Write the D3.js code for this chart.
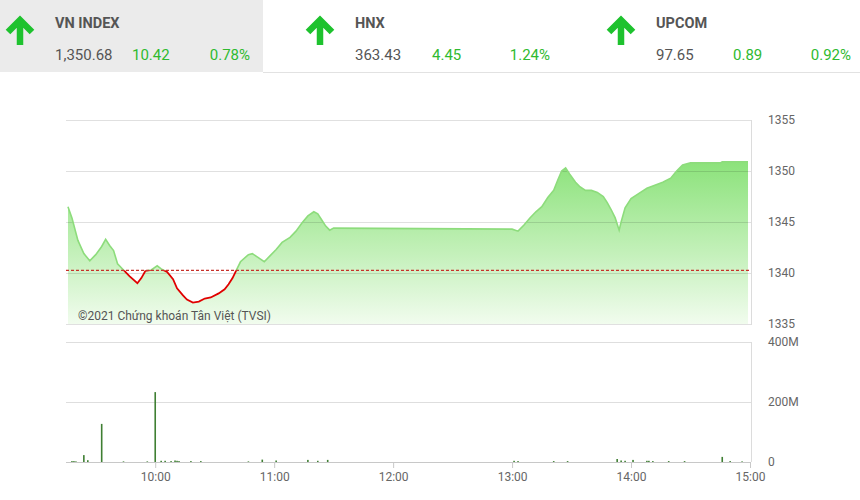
<!DOCTYPE html>
<html>
<head>
<meta charset="utf-8">
<script src="https://cdn.jsdelivr.net/npm/d3@7/dist/d3.min.js"></script>
<style>
  html, body { margin: 0; padding: 0; background: #fff; }
  svg { display: block; font-family: Roboto, "Noto Sans", sans-serif; }
</style>
</head>
<body>
<svg id="chart" width="860" height="500"></svg>
<script>
// ---- Header data ----
const indexNames   = ["VN INDEX", "HNX", "UPCOM"];
const indexValues  = ["1,350.68", "363.43", "97.65"];
const indexChanges = ["10.42", "4.45", "0.89"];
const indexPcts    = ["0.78%", "1.24%", "0.92%"];

// ---- Price series (time "HH:MM", VN-Index value) ----
const priceTimes = ["9:16","9:18","9:21","9:24","9:27","9:30","9:33","9:35","9:37","9:39","9:41","9:44","9:47","9:51","9:53","9:55","9:58",
  "10:01","10:03","10:06","10:09","10:11","10:14","10:16","10:19","10:22","10:25","10:28","10:32","10:35","10:37","10:39","10:41","10:43","10:47","10:49","10:52","10:55","10:58",
  "11:01","11:04","11:08","11:11","11:14","11:17","11:20","11:22","11:24","11:26","11:28","11:30",
  "13:00","13:03","13:06","13:09","13:12","13:15","13:18","13:21","13:23","13:25","13:27","13:29","13:32","13:34","13:37","13:40","13:43","13:46","13:48","13:50","13:52","13:54","13:55","13:57",
  "14:00","14:04","14:08","14:12","14:16","14:20","14:23","14:26","14:30","14:45","14:46","14:59"];
const priceValues = [1346.5,1345.4,1343.2,1341.9,1341.2,1341.8,1342.6,1343.3,1342.7,1342.2,1340.9,1340.3,1339.7,1339.0,1339.5,1340.2,1340.3,
  1340.7,1340.4,1340.1,1339.4,1338.5,1337.8,1337.4,1337.1,1337.2,1337.5,1337.6,1338.0,1338.4,1338.9,1339.5,1340.3,1341.1,1341.8,1341.9,1341.5,1341.1,1341.7,
  1342.3,1343.0,1343.5,1344.1,1344.9,1345.6,1346.0,1345.8,1345.2,1344.6,1344.2,1344.4,
  1344.3,1344.1,1344.7,1345.4,1346.0,1346.5,1347.4,1348.1,1349.1,1350.0,1350.3,1349.7,1348.9,1348.5,1348.1,1348.1,1347.9,1347.5,1346.9,1346.2,1345.4,1344.2,1345.0,1346.4,
  1347.3,1347.8,1348.3,1348.6,1348.9,1349.3,1350.0,1350.6,1350.8,1350.8,1350.9,1350.9];
const referenceValue = 1340.26;

// ---- Volume series (time, millions) ----
const volTimes  = ["9:18","9:19","9:20","9:24","9:26","9:33","9:44","9:56","10:00","10:03","10:05","10:08","10:10","10:11","10:12","10:18","10:23","10:47","10:54",
  "11:01","11:17","11:22","11:27","13:01","13:03","13:21","13:28","13:53","13:55","13:57","14:01","14:08","14:09","14:11","14:19","14:27","14:46","14:50","14:56"];
const volValues = [3,3,2,23,6,127,2,2,233,4,4,3,5,4,3,3,3,2,8,
  5,7,4,7,4,3,3,3,10,5,4,7,4,4,3,3,3,17,3,2];

// ---- Axis ticks ----
const priceTicks = [1335, 1340, 1345, 1350, 1355];
const volTicks   = [0, 200, 400];
const timeTicks  = ["10:00","11:00","12:00","13:00","14:00","15:00"];

// ---- helpers ----
const toMin = s => { const [h, m] = s.split(":").map(Number); return h * 60 + m - (9 * 60 + 15); };
const svg = d3.select("#chart");

// ---- Header ----
svg.append("rect").attr("x", 0).attr("y", 0).attr("width", 263).attr("height", 72).attr("fill", "#ebebeb");
svg.append("line").attr("x1", 263).attr("x2", 860).attr("y1", 72.5).attr("y2", 72.5).attr("stroke", "#e2e2e2");
const cardX = [0, 300, 601];
const hdr = svg.append("g");
indexNames.forEach((name, i) => {
  const g = hdr.append("g").attr("transform", `translate(${cardX[i]},0)`);
  g.append("path")
    .attr("d", "M20,45 L20,22 M8,32 L20,20 L32,32")
    .attr("fill", "none").attr("stroke", "#1ec22e").attr("stroke-width", 6.5)
    .attr("stroke-linecap", "butt").attr("stroke-linejoin", "miter");
  g.append("text").attr("x", 55).attr("y", 28).attr("font-size", 14.5).attr("font-weight", 700)
    .attr("fill", "#555").text(name);
  g.append("text").attr("x", 55).attr("y", 60).attr("font-size", 15).attr("fill", "#555").text(indexValues[i]);
  g.append("text").attr("x", 132).attr("y", 60).attr("font-size", 15).attr("fill", "#2fba2f").text(indexChanges[i]);
  g.append("text").attr("x", 250).attr("y", 60).attr("font-size", 15).attr("fill", "#2fba2f")
    .attr("text-anchor", "end").text(indexPcts[i]);
});

// ---- Scales ----
const x = d3.scaleLinear().domain([0, toMin("15:00")]).range([66, 750]);
const y = d3.scaleLinear().domain([1335, 1355]).range([324, 120]);
const yv = d3.scaleLinear().domain([0, 400]).range([462, 342]);

const priceData = priceTimes.map((t, i) => ({ t: toMin(t), v: priceValues[i] }));
const volData = volTimes.map((t, i) => ({ t: toMin(t), v: volValues[i] }));

const defs = svg.append("defs");
const grad = defs.append("linearGradient").attr("id", "areaGrad")
  .attr("gradientUnits", "userSpaceOnUse").attr("x1", 0).attr("x2", 0)
  .attr("y1", y(1351)).attr("y2", y(1335));
grad.append("stop").attr("offset", "0%").attr("stop-color", "#8be27a");
grad.append("stop").attr("offset", "55%").attr("stop-color", "#c2f0b8");
grad.append("stop").attr("offset", "100%").attr("stop-color", "#f1fcee");

const yRef = y(referenceValue);
defs.append("clipPath").attr("id", "clipAbove").append("rect")
  .attr("x", 0).attr("y", 0).attr("width", 860).attr("height", yRef);
defs.append("clipPath").attr("id", "clipBelow").append("rect")
  .attr("x", 0).attr("y", yRef).attr("width", 860).attr("height", 500 - yRef);

// ---- Price panel ----
const area = d3.area().x(d => x(d.t)).y0(y(1335)).y1(d => y(d.v));
const line = d3.line().x(d => x(d.t)).y(d => y(d.v));

svg.append("path").datum(priceData).attr("d", area).attr("fill", "url(#areaGrad)");

// gridlines and right axis
const yAxis = d3.axisRight(y).tickValues(priceTicks).tickSize(0).tickPadding(0).tickFormat(d3.format("d"));
const gy = svg.append("g").attr("transform", "translate(768,0)").call(yAxis);
gy.select(".domain").remove();
gy.selectAll("text").attr("font-size", 12).attr("fill", "#666").attr("font-family", "Roboto, sans-serif");
svg.append("g").selectAll("line").data(priceTicks).join("line")
  .attr("x1", 66).attr("x2", 751).attr("y1", d => Math.round(y(d)) + 0.5).attr("y2", d => Math.round(y(d)) + 0.5)
  .attr("stroke", "rgba(0,0,0,0.12)");
svg.append("line").attr("x1", 751.5).attr("x2", 751.5).attr("y1", 120).attr("y2", 325).attr("stroke", "#dcdcdc");

svg.append("path").datum(priceData).attr("d", line).attr("fill", "none")
  .attr("stroke", "#8ddc7c").attr("stroke-width", 1.6).attr("clip-path", "url(#clipAbove)");
svg.append("path").datum(priceData).attr("d", line).attr("fill", "none")
  .attr("stroke", "#e00000").attr("stroke-width", 1.8).attr("clip-path", "url(#clipBelow)");

svg.append("line").attr("x1", 66).attr("x2", 751).attr("y1", yRef).attr("y2", yRef)
  .attr("stroke", "#c8302a").attr("stroke-width", 1.1).attr("stroke-dasharray", "3,2");

svg.append("text").attr("x", 78).attr("y", 320).attr("font-size", 12).attr("fill", "#555")
  .text("©2021 Chứng khoán Tân Việt (TVSI)");

// ---- Volume panel ----
svg.append("g").selectAll("line").data(volTicks.filter(d => d > 0)).join("line")
  .attr("x1", 66).attr("x2", 751).attr("y1", d => Math.round(yv(d)) + 0.5).attr("y2", d => Math.round(yv(d)) + 0.5)
  .attr("stroke", "#dedede");
svg.append("line").attr("x1", 751.5).attr("x2", 751.5).attr("y1", 342).attr("y2", 462).attr("stroke", "#dcdcdc");

const yvAxis = d3.axisRight(yv).tickValues(volTicks).tickSize(0).tickPadding(0)
  .tickFormat(d => d === 0 ? "0" : d + "M");
const gyv = svg.append("g").attr("transform", "translate(768,0)").call(yvAxis);
gyv.select(".domain").remove();
gyv.selectAll("text").attr("font-size", 12).attr("fill", "#666").attr("font-family", "Roboto, sans-serif");

svg.append("g").selectAll("rect").data(volData).join("rect")
  .attr("x", d => x(d.t) - 0.8).attr("width", 1.6)
  .attr("y", d => yv(d.v)).attr("height", d => yv(0) - yv(d.v))
  .attr("fill", "#3f7f33");

const xAxis = d3.axisBottom(x).tickValues(timeTicks.map(toMin)).tickSize(6).tickPadding(4)
  .tickFormat((d, i) => timeTicks[i]);
const gx = svg.append("g").attr("transform", "translate(0,462)").call(xAxis);
gx.select(".domain").attr("d", "M66,0.5H751").attr("stroke", "#c8c8c8");
gx.selectAll(".tick line").attr("stroke", "#c8c8c8");
gx.selectAll("text").attr("font-size", 12).attr("fill", "#666").attr("font-family", "Roboto, sans-serif");
</script>
</body>
</html>
